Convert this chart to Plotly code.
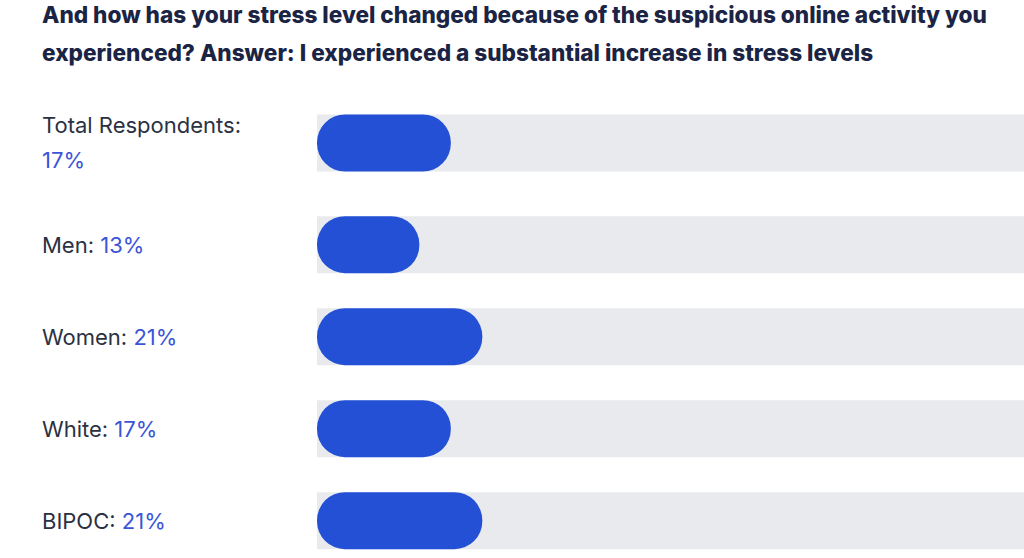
import plotly.graph_objects as go

categories = ["Total Respondents:", "Men:", "Women:", "White:", "BIPOC:"]
values = [17, 13, 21, 17, 21]
track = [100, 100, 100, 100, 100]
label_breaks = [True, False, False, False, False]

title_lines = [
    "And how has your stress level changed because of the suspicious online activity you",
    "experienced? Answer: I experienced a substantial increase in stress levels",
]

BLUE = "#2350d4"
TRACK = "#e8eaed"
DARK = "#2b3142"
PCT = "#3a55d8"
NAVY = "#1b2444"
FONT = "Inter, Noto Sans, sans-serif"

# rows after a two-line label are pushed down a little (layout rule)
EXTRA = 0.105
ypos = [i + EXTRA * sum(label_breaks[:i]) for i in range(len(categories))]

BW = 0.62

fig = go.Figure()
# grey track
fig.add_trace(go.Bar(
    x=track, y=ypos, orientation="h", width=BW, yaxis="y",
    marker=dict(color=TRACK, line=dict(width=0)),
    hoverinfo="skip", showlegend=False,
))
# blue pill (explicit base -> both ends rounded)
fig.add_trace(go.Bar(
    x=values, base=0, y=ypos, orientation="h", width=BW, yaxis="y2",
    marker=dict(color=BLUE, line=dict(width=0), cornerradius="50%"),
    hovertemplate="%{x}%<extra></extra>",
    showlegend=False,
))

for yp, cat, v, br in zip(ypos, categories, values, label_breaks):
    if br:
        fig.add_annotation(
            x=0, xref="paper", xshift=-277, xanchor="left",
            y=yp, yref="y", yshift=18, yanchor="middle",
            text=cat, showarrow=False, align="left",
            font=dict(family=FONT, size=22, color=DARK),
        )
        fig.add_annotation(
            x=0, xref="paper", xshift=-277, xanchor="left",
            y=yp, yref="y", yshift=-17, yanchor="middle",
            text=f"{v}%", showarrow=False, align="left",
            font=dict(family=FONT, size=22, color=PCT),
        )
    else:
        fig.add_annotation(
            x=0, xref="paper", xshift=-277, xanchor="left",
            y=yp, yref="y", yanchor="middle",
            text=f"<span style='color:{DARK}'>{cat}</span> <span style='color:{PCT}'>{v}%</span>",
            showarrow=False, align="left",
            font=dict(family=FONT, size=22, color=DARK),
        )

for line, shift in zip(title_lines, [83, 45]):
    fig.add_annotation(
        x=0, xref="paper", xshift=-277, xanchor="left",
        y=1, yref="paper", yshift=shift, yanchor="middle",
        text=line, showarrow=False, align="left",
        font=dict(family=FONT, size=22.6, color=NAVY, weight=800),
    )

yax = dict(range=[4.5, -0.5], visible=False, fixedrange=True)
fig.update_layout(
    width=1024, height=558,
    margin=dict(l=317, r=0, t=97, b=1),
    paper_bgcolor="white", plot_bgcolor="white",
    barmode="overlay",
    xaxis=dict(range=[0, 89.8], visible=False, fixedrange=True),
    yaxis=yax,
    yaxis2=dict(yax, overlaying="y"),
)

fig.write_html("out.html", config={"displayModeBar": False},
               post_script="document.body.style.margin='0';")
